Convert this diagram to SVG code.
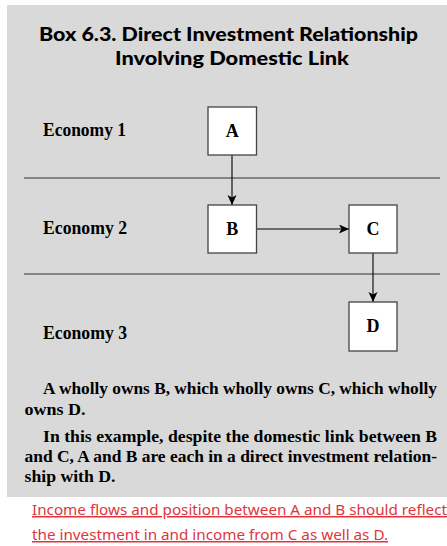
<svg xmlns="http://www.w3.org/2000/svg" width="447" height="546" viewBox="0 0 447 546">
<defs>
<style>
.title{font-family:"Lato","Open Sans","DejaVu Sans",sans-serif;font-weight:900;font-size:19.5px;fill:#000}
.lbl{font-family:"Liberation Serif","Times New Roman",serif;font-weight:bold;font-size:18.5px;fill:#000}
.node rect{fill:#fff;stroke:#444;stroke-width:1.3}
.node text{font-family:"Liberation Serif","Times New Roman",serif;font-weight:bold;font-size:18px;fill:#000;text-anchor:middle}
.sep{stroke:#333;stroke-width:1.2}
.conn line{stroke:#000;stroke-width:1.1;fill:none}
.para{font-family:"Liberation Serif","Times New Roman",serif;font-weight:bold;font-size:17.5px;fill:#000}
.note{font-family:"Noto Sans","Open Sans",sans-serif;font-size:15px;fill:#e0353c;text-decoration:underline}
</style>
<marker id="arr" markerWidth="10" markerHeight="10" refX="10" refY="4.5" orient="auto" markerUnits="userSpaceOnUse">
<path d="M0,0 L10,4.5 L0,9 L2.5,4.5 z" fill="#000"/>
</marker>
</defs>
<rect x="7" y="5" width="440" height="492" fill="#d9d9d9"/>
<text class="title" x="228.5" y="41" text-anchor="middle" textLength="379" lengthAdjust="spacingAndGlyphs">Box 6.3. Direct Investment Relationship</text>
<text class="title" x="232" y="65" text-anchor="middle" textLength="234" lengthAdjust="spacingAndGlyphs">Involving Domestic Link</text>
<text class="lbl" x="43" y="136" textLength="83" lengthAdjust="spacingAndGlyphs">Economy 1</text>
<text class="lbl" x="43" y="234" textLength="84" lengthAdjust="spacingAndGlyphs">Economy 2</text>
<text class="lbl" x="43" y="339" textLength="84" lengthAdjust="spacingAndGlyphs">Economy 3</text>
<line class="sep" x1="24" y1="178" x2="440" y2="178"/>
<line class="sep" x1="24" y1="274" x2="440" y2="274"/>
<g id="conns" class="conn">
<line x1="232" y1="155" x2="232" y2="205" marker-end="url(#arr)"/>
<line x1="257" y1="229" x2="349" y2="229" marker-end="url(#arr)"/>
<line x1="373" y1="253" x2="373" y2="302" marker-end="url(#arr)"/>
</g>
<g id="A" class="node"><rect x="208" y="107" width="48.5" height="48"/><text x="232.3" y="137">A</text></g>
<g id="B" class="node"><rect x="208" y="205" width="48.5" height="48"/><text x="232.3" y="235">B</text></g>
<g id="C" class="node"><rect x="349" y="205" width="48" height="48"/><text x="373" y="235">C</text></g>
<g id="D" class="node"><rect x="349" y="302" width="48" height="49"/><text x="373" y="332">D</text></g>
<text class="para" x="43" y="394" textLength="394" lengthAdjust="spacingAndGlyphs">A wholly owns B, which wholly owns C, which wholly</text>
<text class="para" x="24.5" y="415" textLength="61" lengthAdjust="spacingAndGlyphs">owns D.</text>
<text class="para" x="43" y="442" textLength="394" lengthAdjust="spacingAndGlyphs">In this example, despite the domestic link between B</text>
<text class="para" x="24.5" y="462" textLength="412.5" lengthAdjust="spacingAndGlyphs">and C, A and B are each in a direct investment relation-</text>
<text class="para" x="24.5" y="482" textLength="91" lengthAdjust="spacingAndGlyphs">ship with D.</text>
<text class="note" x="32" y="515" textLength="415" lengthAdjust="spacingAndGlyphs">Income flows and position between A and B should reflect</text>
<text class="note" x="32" y="540" textLength="356" lengthAdjust="spacingAndGlyphs">the investment in and income from C as well as D.</text>
</svg>
